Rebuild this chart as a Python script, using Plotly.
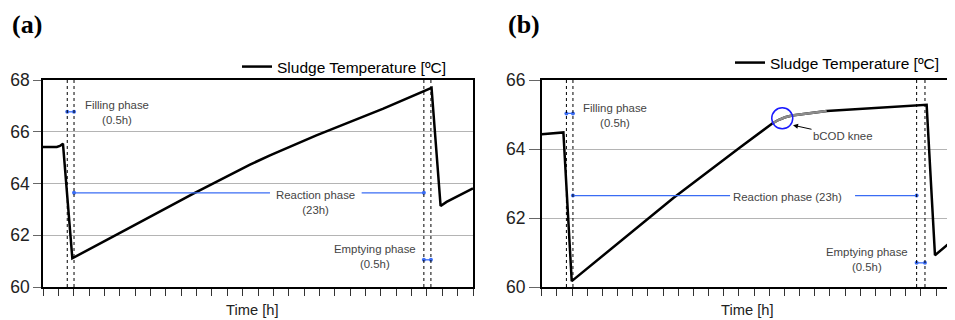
import plotly.graph_objects as go

# ---------------- data ----------------
# Panel (a): sludge temperature over one cycle
time_a = [0.0, 0.9, 1.1, 1.3, 1.91, 2.5, 5.44, 9.79, 13.48, 14.78, 17.8, 22.16, 25.3, 25.89, 26.28, 28.0]
temp_a = [65.41, 65.41, 65.45, 65.54, 61.11, 61.30, 62.23, 63.61, 64.73, 65.09, 65.86, 66.89, 67.70, 63.13, 63.29, 63.81]

# Panel (b): sludge temperature with the bCOD knee
time_b = [0.0, 1.43, 1.98, 8.68, 13.07, 15.2, 15.6, 16.05, 16.5, 18.79, 25.38, 25.93, 27.25]
temp_b = [64.43, 64.48, 60.17, 62.58, 64.04, 64.74, 64.84, 64.92, 64.97, 65.10, 65.28, 60.92, 61.41]
knee_slice = (5, 9)          # points of panel (b) drawn in grey (the knee)
knee_time = [15.86]
knee_temp = [64.89]

# Phase boundaries [h]
fill_a, react_a, empty_a = [1.58, 2.02], [2.02, 24.80], [24.80, 25.26]
fill_b, react_b, empty_b = [1.63, 2.06], [2.06, 24.72], [24.72, 25.27]

series_name = "Sludge Temperature [ºC]"

# ---------------- style ----------------
SANS = "Liberation Sans, Arial, sans-serif"
BLUE = "#3a6cf4"
TXT = "#444444"

OFF = 8                      # default page margin of the html body
W, H = 955 - OFF, 320 - OFF
# plot region in window pixels: x 43..955, y 80..287
PL, PT, PB = 43, 80, 287
ML, MT = PL - OFF, PT - OFF
MB = H - (PB - OFF)
MR = 0
PW = W - ML - MR
PH = H - MT - MB


def px(sx):
    return (sx - PL) / PW


def py(sy):
    return (PB - sy) / PH


dom_a = [0, px(473)]
dom_b = [px(541.7), 1.0]

fig = go.Figure()

# main curves
fig.add_trace(go.Scatter(x=time_a, y=temp_a, mode="lines", name=series_name,
                         line=dict(color="black", width=2.5), xaxis="x", yaxis="y",
                         legend="legend"))
fig.add_trace(go.Scatter(x=time_b, y=temp_b, mode="lines", name=series_name,
                         line=dict(color="black", width=2.5), xaxis="x2", yaxis="y2",
                         legend="legend2"))
k0, k1 = knee_slice
fig.add_trace(go.Scatter(x=time_b[k0:k1 + 1], y=temp_b[k0:k1 + 1], mode="lines",
                         line=dict(color="#8c8c8c", width=2.5), xaxis="x2", yaxis="y2",
                         showlegend=False, hoverinfo="skip"))
fig.add_trace(go.Scatter(x=knee_time, y=knee_temp, mode="markers",
                         marker=dict(symbol="circle-open", size=21, color="#1a1aff",
                                     line=dict(width=1.5, color="#1a1aff")),
                         xaxis="x2", yaxis="y2", showlegend=False, hoverinfo="skip"))


def phase_arrow(xs, level, xa, ya):
    fig.add_trace(go.Scatter(x=xs, y=[level, level], mode="lines+markers",
                             line=dict(color=BLUE, width=1.3),
                             marker=dict(size=4, color=BLUE),
                             xaxis=xa, yaxis=ya, showlegend=False, hoverinfo="skip"))


def reaction_line(xs, gap, level, xa, ya):
    for seg in ([xs[0], gap[0]], [gap[1], xs[1]]):
        fig.add_trace(go.Scatter(x=seg, y=[level, level], mode="lines",
                                 line=dict(color=BLUE, width=1.3),
                                 xaxis=xa, yaxis=ya, showlegend=False, hoverinfo="skip"))
    fig.add_trace(go.Scatter(x=xs, y=[level, level], mode="markers",
                             marker=dict(size=4, color=BLUE),
                             xaxis=xa, yaxis=ya, showlegend=False, hoverinfo="skip"))


phase_arrow(fill_a, 66.77, "x", "y")
phase_arrow(empty_a, 61.05, "x", "y")
reaction_line(react_a, [14.78, 20.75], 63.64, "x", "y")
phase_arrow(fill_b, 65.03, "x2", "y2")
phase_arrow(empty_b, 60.70, "x2", "y2")
reaction_line(react_b, [12.42, 20.66], 62.65, "x2", "y2")

# dotted phase boundaries
shapes = []
for xref, yref, bounds in [("x", "y domain", fill_a + empty_a), ("x2", "y2 domain", fill_b + empty_b)]:
    for xv in bounds:
        shapes.append(dict(type="line", xref=xref, yref=yref, x0=xv, x1=xv, y0=0, y1=1,
                           line=dict(color="black", width=1, dash="dot"), layer="above"))

ann_font = dict(family=SANS, size=11.4, color=TXT)
serif = dict(family="Liberation Serif, Times New Roman, serif", size=26, color="black")
paper_ann = dict(xref="paper", yref="paper", showarrow=False, xanchor="center", yanchor="middle")
annotations = [
    dict(text="Filling phase<br>(0.5h)", x=4.82, y=66.73, xref="x", yref="y", showarrow=False, font=ann_font),
    dict(text="Reaction phase<br>(23h)", x=17.77, y=63.28, xref="x", yref="y", showarrow=False, font=ann_font),
    dict(text="Emptying phase<br>(0.5h)", x=21.63, y=61.17, xref="x", yref="y", showarrow=False, font=ann_font),
    dict(text="Filling phase<br>(0.5h)", x=4.83, y=64.97, xref="x2", yref="y2", showarrow=False, font=ann_font),
    dict(text="Reaction phase (23h)", x=16.2, y=62.60, xref="x2", yref="y2", showarrow=False, font=ann_font),
    dict(text="Emptying phase<br>(0.5h)", x=21.44, y=60.80, xref="x2", yref="y2", showarrow=False, font=ann_font),
    dict(text="bCOD knee", x=16.57, y=64.69, xref="x2", yref="y2", showarrow=True,
         ax=50, ay=11, arrowhead=2, arrowsize=1, arrowwidth=1, arrowcolor="black", font=ann_font),
    dict(text="<b>(a)</b>", x=px(27), y=py(25), font=serif, **paper_ann),
    dict(text="<b>(b)</b>", x=px(524), y=py(25), font=serif, **paper_ann),
    dict(text="Time [h]", x=px(252), y=py(310), font=dict(family=SANS, size=14.7, color="#222"), **paper_ann),
    dict(text="Time [h]", x=px(747), y=py(310), font=dict(family=SANS, size=14.7, color="#222"), **paper_ann),
]

xcommon = dict(dtick=1, tick0=0, ticks="outside", ticklen=7, tickcolor="#333", tickwidth=1,
               showticklabels=False, showline=True, linecolor="black", linewidth=2, mirror=True,
               showgrid=False, zeroline=False, automargin=False)
ycommon = dict(dtick=2, ticks="outside", tickcolor="#666", tickwidth=1,
               tickfont=dict(family=SANS, size=17.5, color="#222"),
               showline=True, linecolor="black", linewidth=1.5, showgrid=True,
               gridcolor="#b4b4b4", gridwidth=1, zeroline=False, automargin=False)

legend_common = dict(xanchor="right", yanchor="middle", bgcolor="rgba(0,0,0,0)",
                     font=dict(family=SANS, size=15.5, color="black"), itemwidth=30)

fig.update_layout(
    width=W, height=H, margin=dict(l=ML, r=MR, t=MT, b=MB, autoexpand=False),
    plot_bgcolor="white", paper_bgcolor="white",
    xaxis=dict(domain=dom_a, range=[0, 28], anchor="y", **xcommon),
    xaxis2=dict(domain=dom_b, range=[0, 27.25], anchor="y2", **xcommon),
    yaxis=dict(domain=[0, 1], range=[60, 68], anchor="x", mirror=True, ticklen=8, **ycommon),
    yaxis2=dict(domain=[0, 1], range=[60, 66], anchor="x2", mirror=False, ticklen=11, **ycommon),
    legend=dict(x=px(452), y=py(67), **legend_common),
    legend2=dict(x=px(945), y=py(63), **legend_common),
    shapes=shapes, annotations=annotations, showlegend=True,
)

fig.write_html("out.html")
